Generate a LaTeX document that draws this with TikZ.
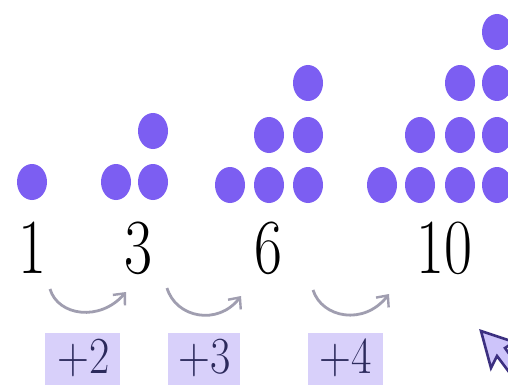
\documentclass[tikz,border=0pt]{standalone}
\usepackage{fontspec}
\usepackage{graphicx}
\usetikzlibrary{arrows.meta}
\definecolor{dotc}{RGB}{124,94,242}
\definecolor{arcc}{RGB}{160,158,176}
\definecolor{boxc}{RGB}{216,208,250}
\definecolor{boxt}{RGB}{44,42,92}
\definecolor{pointc}{RGB}{60,48,128}
\definecolor{pointf}{RGB}{205,196,250}
\tikzset{
  dot/.style={fill=dotc},
  num/.style={inner sep=0pt, font=\fontsize{78}{78}\selectfont, text=black},
  inc/.style={inner sep=0pt, font=\fontsize{52}{52}\selectfont, text=boxt},
  incbox/.style={fill=boxc, draw=none},
  hop/.style={draw=arcc, line width=2.8pt, -{Straight Barb[length=9pt,width=16pt,line width=2.4pt]}},
}
\newcommand{\pdot}[2]{\fill[dot] (#1,-#2) ellipse [x radius=15, y radius=18];}
\newcommand{\sx}[1]{\scalebox{0.78}[1]{#1}}
\begin{document}
\begin{tikzpicture}[x=1pt,y=1pt]
\useasboundingbox (0,0) rectangle (508,-385);
\fill[white] (0,0) rectangle (508,-385);
% dots
\pdot{32}{182}
\pdot{116}{182}\pdot{153}{182}\pdot{153}{131}
\pdot{230}{185}\pdot{269}{185}\pdot{308}{185}
\pdot{269}{135}\pdot{308}{135}\pdot{308}{83}
\pdot{382}{185}\pdot{420}{185}\pdot{460}{185}\pdot{497}{185}
\pdot{420}{135}\pdot{460}{135}\pdot{497}{135}
\pdot{460}{83}\pdot{497}{83}
\pdot{497}{32}
% numbers
\node[num] (n1) at (32,-248) {\sx{1}};
\node[num] (n3) at (138,-248) {\sx{3}};
\node[num] (n6) at (268,-248) {\sx{6}};
\node[num] (n10) at (444,-248) {\sx{10}};
% arcs
\coordinate (a1s) at (50,-289); \coordinate (a1e) at (126,-292);
\coordinate (a2s) at (167,-288); \coordinate (a2e) at (241,-296);
\coordinate (a3s) at (313,-290); \coordinate (a3e) at (389,-294);
\draw[hop] (a1s) .. controls (58,-316) and (100,-322) .. (a1e);
\draw[hop] (a2s) .. controls (176,-318) and (218,-326) .. (a2e);
\draw[hop] (a3s) .. controls (322,-318) and (364,-326) .. (a3e);
% increment boxes
\fill[incbox] (45,-333) rectangle (120,-392);
\fill[incbox] (168,-333) rectangle (240,-392);
\fill[incbox] (308,-333) rectangle (383,-392);
\node[inc] (p2) at (84,-358) {\scalebox{0.85}[1]{+2}};
\node[inc] (p3) at (205,-358) {\scalebox{0.85}[1]{+3}};
\node[inc] (p4) at (346,-358) {\scalebox{0.85}[1]{+4}};
% pointer arrow at bottom right
\filldraw[draw=pointc, fill=pointf, line width=2.6pt, line join=miter]
  (481,-331) -- (491,-368) -- (497,-356) -- (515,-380) -- (522,-372) -- (505,-348) -- (514,-342) -- cycle;
\end{tikzpicture}
\end{document}
